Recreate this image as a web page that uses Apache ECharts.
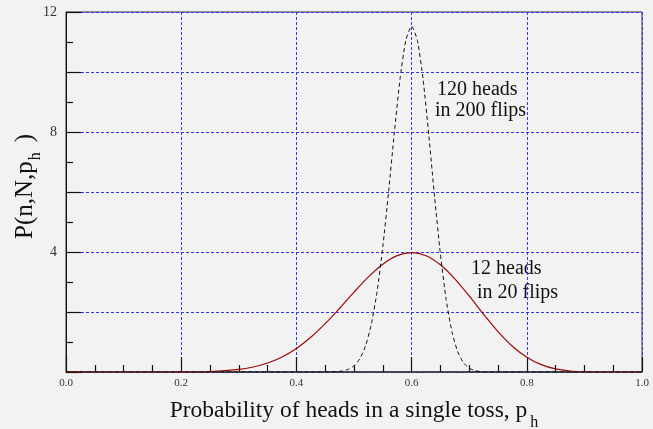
<!DOCTYPE html>
<html>
<head>
<meta charset="utf-8">
<script src="https://cdn.jsdelivr.net/npm/echarts@6/dist/echarts.min.js"></script>
<style>
html,body{margin:0;padding:0;background:#f2f2f2;}
#chart{width:653px;height:429px;}
</style>
</head>
<body>
<div id="chart"></div>
<script>
// 12 heads in 20 flips (solid dark red)
const p20 = [0, 0.15, 0.2, 0.25, 0.3, 0.325, 0.35, 0.375, 0.4, 0.425, 0.45, 0.475, 0.5, 0.525, 0.55, 0.575, 0.6, 0.625, 0.65, 0.675, 0.7, 0.725, 0.75, 0.775, 0.8, 0.825, 0.85, 0.875, 0.9, 0.95, 1.0];
const v20 = [0, 0.0004, 0.0019, 0.017, 0.086, 0.167, 0.300, 0.502, 0.786, 1.157, 1.612, 2.124, 2.660, 3.169, 3.594, 3.879, 3.98, 3.876, 3.573, 3.106, 2.535, 1.924, 1.349, 0.860, 0.491, 0.244, 0.102, 0.034, 0.008, 0.0001, 0];
// 120 heads in 200 flips (black dashed)
const p200 = [0, 0.44, 0.45, 0.46, 0.47, 0.48, 0.49, 0.50, 0.51, 0.52, 0.53, 0.54, 0.55, 0.56, 0.57, 0.58, 0.59, 0.60, 0.61, 0.62, 0.63, 0.64, 0.65, 0.66, 0.67, 0.68, 0.69, 0.70, 0.71, 0.72, 0.73, 0.74, 0.75, 1.0];
const v200 = [0, 0.0003, 0.0014, 0.0044, 0.013, 0.035, 0.089, 0.205, 0.439, 0.868, 1.584, 2.673, 4.166, 5.995, 7.972, 9.777, 11.06, 11.53, 11.06, 9.747, 7.869, 5.818, 3.927, 2.411, 1.346, 0.679, 0.309, 0.126, 0.046, 0.015, 0.0042, 0.001, 0.0002, 0];
// axis ticks
const xTicks = [0, 0.2, 0.4, 0.6, 0.8, 1.0];
const yLabeled = [4, 8, 12];

const serif = '"Liberation Serif", "DejaVu Serif", serif';
const chart = echarts.init(document.getElementById('chart'));
chart.setOption({
  animation: false,
  backgroundColor: '#f2f2f2',
  grid: {left: 66, right: 11, top: 12, bottom: 57, outerBoundsMode: 'none', containLabel: false,
    show: true, borderColor: '#333', borderWidth: 1, backgroundColor: 'transparent'},
  xAxis: {
    type: 'value', min: 0, max: 1, interval: 0.2,
    axisLine: {show: true, lineStyle: {color: '#333', width: 1.5}},
    axisTick: {show: true, inside: true, length: 15, lineStyle: {color: '#111', width: 1.2}},
    minorTick: {show: true, splitNumber: 4, length: 7, lineStyle: {color: '#111', width: 1.2}},
    splitLine: {show: true, lineStyle: {color: '#3333f5', type: [3, 2], width: 1}},
    axisLabel: {fontFamily: serif, fontSize: 11, color: '#333', margin: 6,
      formatter: v => xTicks.some(t => Math.abs(t - v) < 1e-9) ? v.toFixed(1) : ''},
    name: '{a|Probability of heads in a single toss, p}{s|h}',
    nameLocation: 'middle', nameGap: 27,
    nameTextStyle: {rich: {
      a: {fontFamily: serif, fontSize: 23.5, color: '#111', verticalAlign: 'top', lineHeight: 24},
      s: {fontFamily: serif, fontSize: 16, color: '#111', verticalAlign: 'top', lineHeight: 17, padding: [16, 0, 0, 3]}
    }}
  },
  yAxis: {
    type: 'value', min: 0, max: 12, interval: 2,
    axisLine: {show: true, lineStyle: {color: '#111', width: 1}},
    axisTick: {show: true, inside: true, length: 15, lineStyle: {color: '#111', width: 1.2}},
    minorTick: {show: true, splitNumber: 2, length: 7, lineStyle: {color: '#111', width: 1.2}},
    splitLine: {show: true, lineStyle: {color: '#3333f5', type: [3, 2], width: 1}},
    axisLabel: {fontFamily: serif, fontSize: 14, color: '#333', margin: 9,
      formatter: v => yLabeled.includes(v) ? String(v) : ''}
  },
  series: [
    {
      type: 'line', name: '12 heads in 20 flips',
      data: p20.map((p, i) => [p, v20[i]]),
      showSymbol: false, smooth: 0.3,
      lineStyle: {color: '#9b0a0a', width: 1.2}, z: 3
    },
    {
      type: 'line', name: '120 heads in 200 flips',
      data: p200.map((p, i) => [p, v200[i]]),
      showSymbol: false, smooth: 0.2,
      lineStyle: {color: '#111', width: 1, type: [4, 3]}, z: 4
    }
  ],
  graphic: [
    {type: 'text', x: 13, y: 239, rotation: Math.PI / 2, style: {
      text: '{a|P(n,N,p}{s|h}{b|)}', align: 'left', verticalAlign: 'top',
      rich: {
        a: {fontFamily: serif, fontSize: 25, fill: '#111', verticalAlign: 'top', lineHeight: 26},
        b: {fontFamily: serif, fontSize: 25, fill: '#111', verticalAlign: 'top', lineHeight: 26, padding: [0, 0, 0, 10]},
        s: {fontFamily: serif, fontSize: 16, fill: '#111', verticalAlign: 'top', lineHeight: 17, padding: [15, 0, 0, 1]}
      }}},
    {type: 'text', left: 437, top: 80, style: {text: '120 heads', font: '20px ' + serif, fill: '#111'}},
    {type: 'text', left: 435, top: 101, style: {text: 'in 200 flips', font: '20px ' + serif, fill: '#111'}},
    {type: 'text', left: 471, top: 259, style: {text: '12 heads', font: '20px ' + serif, fill: '#111'}},
    {type: 'text', left: 477, top: 283, style: {text: 'in 20 flips', font: '20px ' + serif, fill: '#111'}}
  ]
});
</script>
</body>
</html>
